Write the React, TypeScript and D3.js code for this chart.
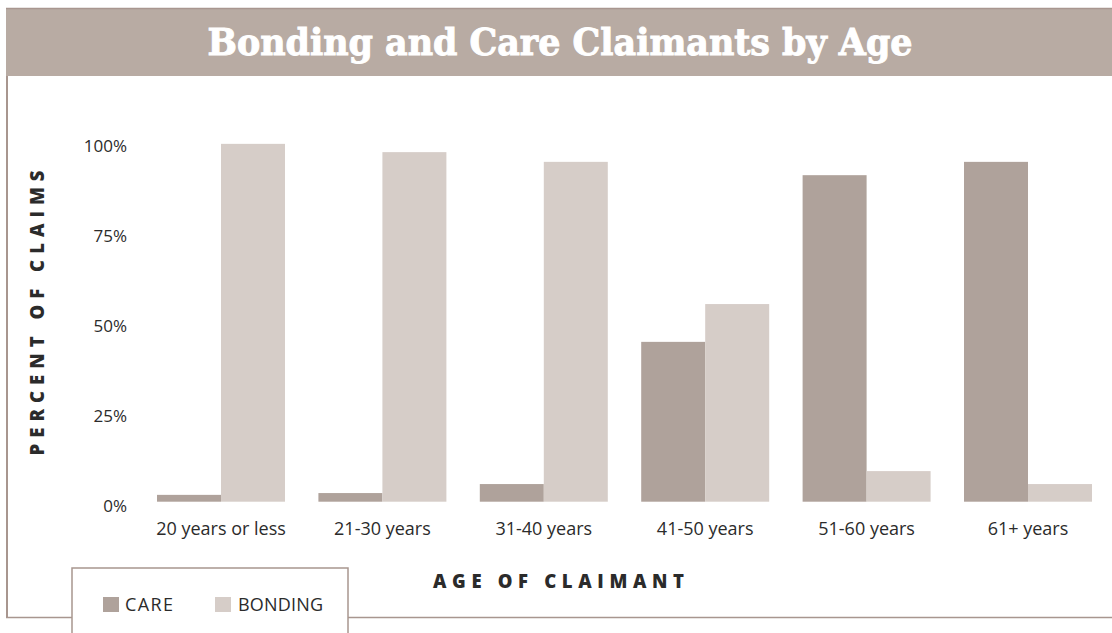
import React from "react";
import * as d3 from "d3";

const categories = ["20 years or less", "21-30 years", "31-40 years", "41-50 years", "51-60 years", "61+ years"];
const careValues = [1.9, 2.4, 4.9, 44.4, 90.7, 94.4];
const bondingValues = [99.4, 97.1, 94.4, 54.9, 8.5, 4.9];
const yTicks = [0, 25, 50, 75, 100];
const seriesNames = ["CARE", "BONDING"];

const W = 1112;
const H = 633;
const CARE = "#afa29b";
const BOND = "#d6cdc8";
const BAND = "#b8aba3";
const BORDER = "#a8968f";
const TEXT = "#2b2b2b";
const SANS = "'Open Sans', Lato, sans-serif";

export default function App() {
  const x0 = d3.scaleBand<string>().domain(categories).range([140.3, 1108.7]).paddingInner(0.207).paddingOuter(0.1035);
  const x1 = d3.scaleBand<string>().domain(seriesNames).range([0, x0.bandwidth()]).padding(0);
  const y = d3.scaleLinear().domain([0, 100]).range([501.7, 141.7]);

  return (
    <svg width={W} height={H} style={{ position: "absolute", left: 0, top: 0, display: "block" }}>
      <rect x={0} y={0} width={W} height={H} fill="#ffffff" />
      {/* outer frame */}
      <line x1={7} y1={8} x2={7} y2={618} stroke={BORDER} strokeWidth={2} />
      <line x1={6} y1={617.5} x2={W} y2={617.5} stroke={BORDER} strokeWidth={1.5} />
      {/* title band */}
      <rect x={6} y={8} width={W - 6} height={68} fill={BAND} />
      <line x1={6} y1={8.5} x2={W} y2={8.5} stroke={BORDER} strokeWidth={1.5} />
      <text x={560} y={55} textAnchor="middle" fill="#ffffff" fontFamily="'DejaVu Serif', serif" fontWeight="bold" fontStretch="condensed" fontSize={37} textLength={705} lengthAdjust="spacingAndGlyphs" stroke="#ffffff" strokeWidth={0.9}>
        Bonding and Care Claimants by Age
      </text>
      {/* y ticks */}
      {yTicks.map((t) => (
        <text key={t} x={127} y={y(t) + 4.5} dy="0.35em" textAnchor="end" fill={TEXT} fontFamily={SANS} fontSize={17}>
          {t}%
        </text>
      ))}
      {/* y title */}
      <text transform="translate(38,310) rotate(-90)" textAnchor="middle" dy="0.35em" fill={TEXT} fontFamily={SANS} fontWeight={800} fontSize={18.5} letterSpacing={6} textLength={291} lengthAdjust="spacing">
        PERCENT OF CLAIMS
      </text>
      {/* bars */}
      {categories.map((c, i) => (
        <g key={c} transform={`translate(${x0(c)},0)`}>
          <rect x={x1("CARE")} y={y(careValues[i])} width={x1.bandwidth()} height={y(0) - y(careValues[i])} fill={CARE} />
          <rect x={x1("BONDING")} y={y(bondingValues[i])} width={x1.bandwidth()} height={y(0) - y(bondingValues[i])} fill={BOND} />
          <text x={x0.bandwidth() / 2} y={529} dy="0.35em" textAnchor="middle" fill={TEXT} fontFamily={SANS} fontSize={18}>
            {c}
          </text>
        </g>
      ))}
      {/* x title */}
      <text x={561} y={582} dy="0.35em" textAnchor="middle" fill={TEXT} fontFamily={SANS} fontWeight={800} fontSize={18.5} letterSpacing={5} textLength={256} lengthAdjust="spacing">
        AGE OF CLAIMANT
      </text>
      {/* legend */}
      <rect x={72} y={568} width={276} height={80} fill="#ffffff" stroke={BORDER} strokeWidth={1.5} />
      <rect x={103} y={597} width={16} height={15} fill={CARE} />
      <text x={125} y={605} dy="0.35em" fill={TEXT} fontFamily={SANS} fontSize={18} textLength={48} lengthAdjust="spacing">CARE</text>
      <rect x={215} y={597} width={16} height={15} fill={BOND} />
      <text x={238} y={605} dy="0.35em" fill={TEXT} fontFamily={SANS} fontSize={18} textLength={85} lengthAdjust="spacing">BONDING</text>
    </svg>
  );
}
